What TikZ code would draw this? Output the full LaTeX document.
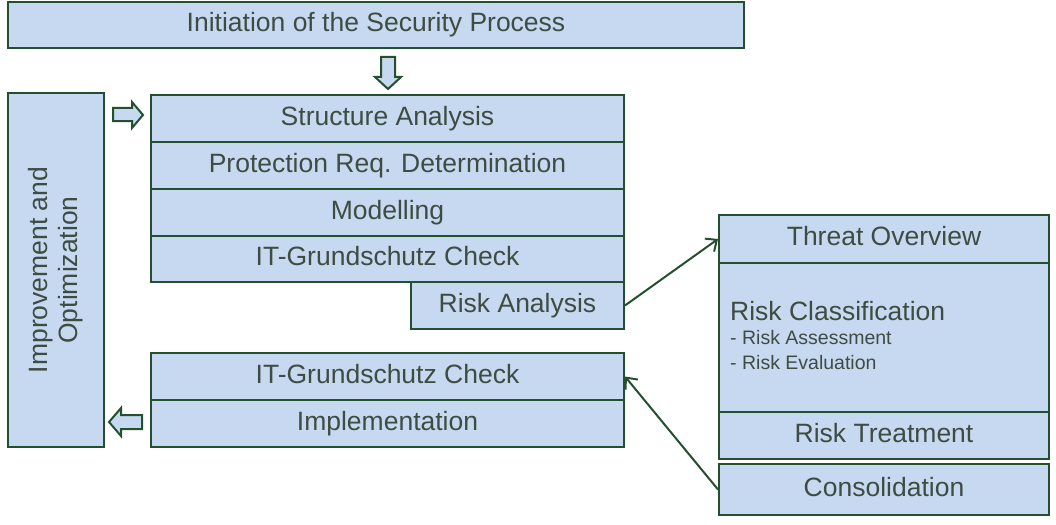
\documentclass[tikz,border=0pt]{standalone}
\usepackage{fontspec}
\setmainfont{Liberation Sans}
\usetikzlibrary{arrows.meta}
\definecolor{boxfill}{HTML}{C6D9F0}
\definecolor{boxline}{HTML}{24502F}
\definecolor{txt}{HTML}{3E4C42}
\begin{document}
\begin{tikzpicture}[x=1pt,y=-1pt,
  box/.style={draw=boxline, fill=boxfill, line width=2pt, rectangle, inner sep=0pt,
    text=txt, font=\fontsize{26.5}{30}\selectfont, text height=19pt, text depth=6pt,
    anchor=north west},
  lbl/.style={text=txt, inner sep=0pt, anchor=west},
  conn/.style={draw=boxline, line width=2pt, -{Straight Barb[length=9pt,width=16pt]}},
  blockarrow/.style={draw=boxline, fill=boxfill, line width=2pt, line join=miter}]
\useasboundingbox (0,0) rectangle (1056,524);
% top
\node[box, minimum width=736pt, minimum height=46pt] (init) at (7,1.5) {Initiation of the Security Process};
% upper stack
\node[box, minimum width=473pt, minimum height=47pt] (sa) at (150,94) {Structure Analysis};
\node[box, minimum width=473pt, minimum height=47pt] (prd) at (150,141) {Protection Req. Determination};
\node[box, minimum width=473pt, minimum height=47pt] (mod) at (150,188) {Modelling};
\node[box, minimum width=473pt, minimum height=46pt] (itc) at (150,235) {IT-Grundschutz Check};
\node[box, minimum width=213pt, minimum height=47pt] (ra) at (410,281) {Risk Analysis};
% lower stack
\node[box, minimum width=473pt, minimum height=47pt] (itc2) at (150,352) {IT-Grundschutz Check};
\node[box, minimum width=473pt, minimum height=47pt] (impl) at (150,399) {Implementation};
% left box
\node[box, minimum width=96pt, minimum height=354pt] (imp) at (7,92) {};
\node[text=txt, font=\fontsize{26.5}{30}\selectfont, rotate=90, align=center, inner sep=0pt] (implbl) at (imp.center) {Improvement and\\Optimization};
% right stack
\node[box, minimum width=330pt, minimum height=48pt] (to) at (718,214) {Threat Overview};
\node[box, minimum width=330pt, minimum height=149pt] (rc) at (718,262) {};
\node[box, minimum width=330pt, minimum height=47pt] (rt) at (718,411) {Risk Treatment};
\node[box, minimum width=330pt, minimum height=51pt] (cons) at (718,463) {Consolidation};
\node[lbl, font=\fontsize{26.5}{30}\selectfont] (rcl) at (730,311) {Risk Classification};
\node[lbl, font=\fontsize{19.5}{22}\selectfont] (rca) at (730,338) {- Risk Assessment};
\node[lbl, font=\fontsize{19.5}{22}\selectfont] (rce) at (730,363) {- Risk Evaluation};
% connectors
\draw[conn] (ra.east) -- (to.west);
\draw[conn] (cons.west) -- (itc2.east);
% block arrows
\draw[blockarrow] (381,57) -- (395,57) -- (395,77) -- (401,77) -- (388,89) -- (375,77) -- (381,77) -- cycle;
\draw[blockarrow] (113,108) -- (132,108) -- (132,102) -- (143,115) -- (132,128) -- (132,121) -- (113,121) -- cycle;
\draw[blockarrow] (142,415) -- (121,415) -- (121,408) -- (109,422) -- (121,436) -- (121,429) -- (142,429) -- cycle;
\end{tikzpicture}
\end{document}
